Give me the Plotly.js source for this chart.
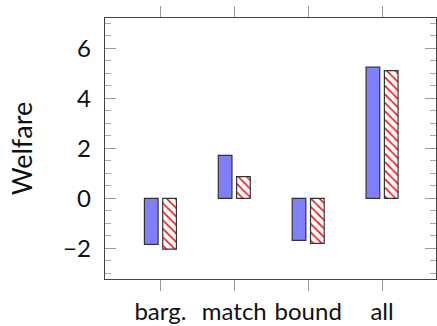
<!DOCTYPE html>
<html><head><meta charset="utf-8">
<script src="https://cdn.plot.ly/plotly-3.0.1.min.js"></script>
<style>html,body{margin:0;padding:0;background:#fff}#c{width:437px;height:326px}</style>
</head><body><div id="c"></div>
<script>
const categories = ["barg.", "match", "bound", "all"];
const seriesA = [-1.84, 1.72, -1.68, 5.25];
const seriesB = [-2.03, 0.87, -1.80, 5.11];
const yTickVals = [-2, 0, 2, 4, 6];
const yTickText = ["\u22122", "0", "2", "4", "6"];

const xIdx = categories.map((_, i) => i);
const W = 0.185;
const traces = [
  {type:'bar', x:xIdx, y:seriesA, width:W, offset:-0.2165,
   marker:{color:'#8080ff', line:{color:'#333', width:1.2}}, hoverinfo:'skip'},
  {type:'bar', x:xIdx, y:seriesB, width:W, offset:0.0315,
   marker:{color:'#ffffff', line:{color:'#333', width:1.2},
     pattern:{shape:'\\', fgcolor:'#ff0000', bgcolor:'#ffffff', size:6, solidity:0.25}}, hoverinfo:'skip'}
];
const layout = {
  width:437, height:326, margin:{l:105, r:1, t:18, b:47},
  paper_bgcolor:'#fff', plot_bgcolor:'#fff', showlegend:false, barmode:'overlay',
  font:{family:'Lato, "DejaVu Sans", sans-serif', color:'#111'},
  xaxis:{range:[-0.75, 3.73], tickvals:xIdx, ticktext:categories, showgrid:false, zeroline:false,
    showline:true, linecolor:'#444', linewidth:1.3, mirror:'allticks', ticks:'outside', ticklen:11,
    tickcolor:'#999', tickwidth:1, tickfont:{size:24}, ticklabelstandoff:0},
  yaxis:{range:[-3.23, 7.22], tickvals:yTickVals, ticktext:yTickText, showgrid:false, zeroline:false,
    showline:true, linecolor:'#444', linewidth:1.3, mirror:'allticks', ticks:'inside', ticklen:11,
    tickcolor:'#999', tickwidth:1, tickfont:{size:24}, ticklabelstandoff:8,
    minor:{dtick:0.5, tick0:0, ticks:'inside', ticklen:6, tickcolor:'#aaa', tickwidth:1},
    title:{text:'Welfare', font:{size:27}, standoff:22}}
};
Plotly.newPlot('c', traces, layout, {staticPlot:true, displayModeBar:false});
</script></body></html>
